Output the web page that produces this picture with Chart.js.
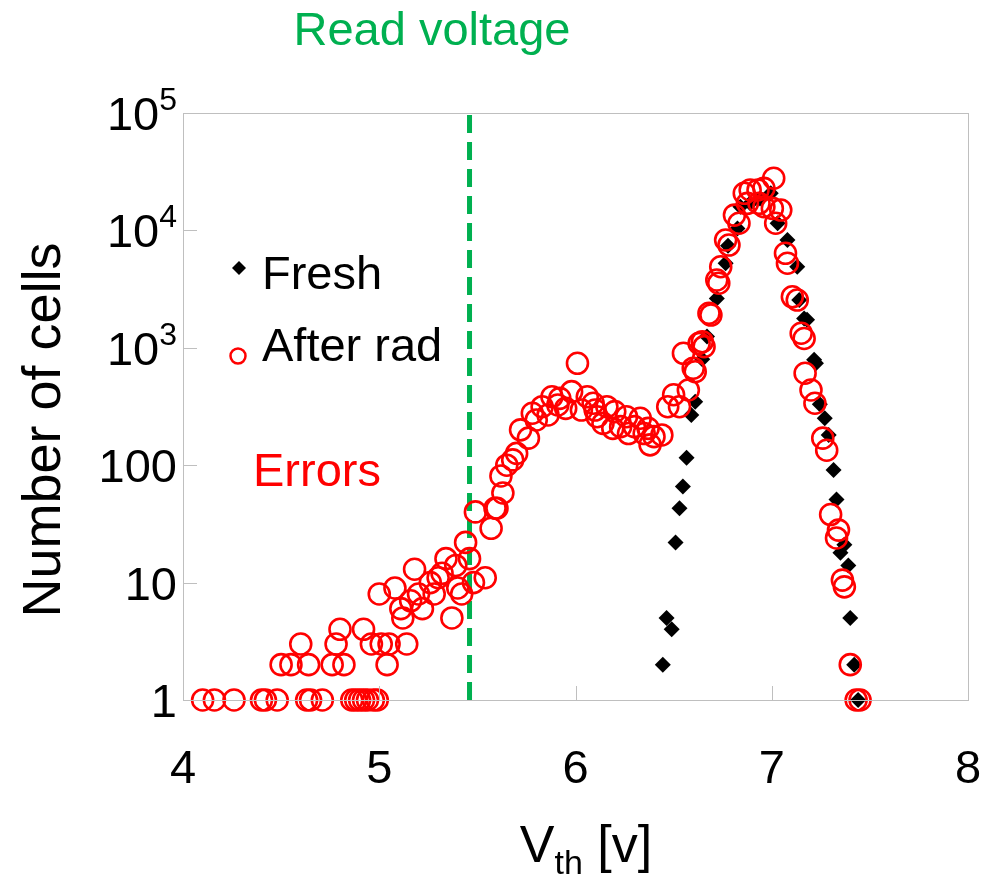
<!DOCTYPE html>
<html>
<head>
<meta charset="utf-8">
<script src="https://cdn.jsdelivr.net/npm/chart.js@4.4.1/dist/chart.umd.min.js"></script>
<style>
  body { margin: 0; background: #fff; }
  #wrap { width: 984px; height: 883px; }
</style>
</head>
<body>
<div id="wrap"><canvas id="vthChart" width="984" height="883"></canvas></div>
<script>
// Fresh cells (black diamonds): Vth [v] and number of cells
const freshV = [6.445, 6.464, 6.49, 6.51, 6.53, 6.547, 6.566, 6.59, 6.61, 6.646, 6.67, 6.72, 6.765, 6.777,
  6.825, 6.84, 6.89, 6.94, 6.995, 7.03, 7.08, 7.13, 7.14, 7.165, 7.18, 7.216, 7.225, 7.245, 7.27, 7.29,
  7.315, 7.33, 7.35, 7.37, 7.39, 7.40, 7.42, 7.44];
const freshN = [2, 5, 4, 22, 43, 66, 116, 268, 347, 800, 1250, 2630, 5250, 7400,
  10400, 15900, 17000, 18700, 20700, 11500, 8300, 4900, 2550, 1780, 1730, 790, 740, 330, 251, 181,
  91, 51, 18, 21, 14, 5, 2, 1];

// After radiation (red open circles)
const radV = [4.10, 4.16, 4.26, 4.40, 4.42, 4.48, 4.63, 4.65, 4.71, 4.86, 4.88, 4.90, 4.92, 4.94, 4.97, 4.99,
  4.50, 4.55, 4.64, 4.76, 4.82, 5.04,
  4.60, 4.78, 4.96, 5.01, 5.05, 5.14,
  4.80, 4.92, 5.12, 5.37, 5.11, 5.22, 5.16, 5.00, 5.20, 5.28, 5.42, 5.08, 5.40,
  5.26, 5.48, 5.30, 5.54, 5.32, 5.18, 5.39, 5.34, 5.46, 5.44, 5.57, 5.49, 5.59, 5.60, 5.63, 5.62,
  5.65, 5.68, 5.70, 5.72, 5.76, 5.78, 5.80, 5.83, 5.86, 5.88, 5.91, 5.92, 5.95, 5.98, 6.01,
  6.03, 6.06, 6.09, 6.10, 6.11, 6.14, 6.16, 6.19, 6.20, 6.23, 6.26, 6.27, 6.30, 6.33, 6.35, 6.37,
  6.38, 6.40, 6.44, 6.47, 6.50, 6.53, 6.55, 6.575, 6.60, 6.61, 6.63, 6.646, 6.655, 6.68, 6.69,
  6.72, 6.73, 6.74, 6.765, 6.782, 6.81, 6.833, 6.86, 6.876, 6.89, 6.93, 6.935, 6.96, 6.96, 7.003,
  7.01, 7.02, 7.046, 7.07, 7.08, 7.105, 7.13, 7.15, 7.165, 7.17, 7.20, 7.22, 7.26, 7.28, 7.30,
  7.33, 7.34, 7.36, 7.37, 7.40, 7.43, 7.45];
const radN = [1, 1, 1, 1, 1, 1, 1, 1, 1, 1, 1, 1, 1, 1, 1, 1,
  2, 2, 2, 2, 2, 2,
  3, 3, 3, 3, 3, 3,
  4, 4, 5, 5, 6, 6, 7, 8, 8, 8, 8, 9, 9,
  10, 10, 11, 11, 12, 13, 14, 16, 16, 22, 29, 40, 43, 43, 58, 81,
  100, 111, 126, 200, 170, 277, 243, 315, 268, 383, 326, 371, 305, 423, 738,
  295, 383, 337, 295, 259, 227, 315, 206, 286, 213, 259, 186, 213, 251, 186, 206,
  149, 175, 181, 315, 398, 315, 898, 437, 670, 626, 1090, 1127, 1023, 1970, 1900,
  3780, 3550, 4900, 8280, 7500, 13500, 11500, 20700, 17000, 22100, 22100, 17000, 22800, 15900, 15400,
  27800, 11500, 14900, 6380, 5250, 2720, 2550, 1330, 1200, 607, 437, 337, 170, 134, 38,
  24, 28, 10.5, 9.2, 2, 1, 1];

// Read voltage marker
const readVoltage = 5.46;

const xTicks = [4, 5, 6, 7, 8];
const yTicks = [1, 10, 100, 1000, 10000, 100000];
const yTickText = [["1", ""], ["10", ""], ["100", ""], ["10", "3"], ["10", "4"], ["10", "5"]];

const FONT = '"Liberation Sans", Arial, sans-serif';
const GREEN = "#00b050";
const RED = "#ff0000";

const toPts = (xs, ys) => xs.map((x, i) => ({ x: x, y: ys[i] }));

const decorations = {
  id: "decorations",
  afterDraw(chart) {
    const ctx = chart.ctx;
    const a = chart.chartArea;
    const xs = chart.scales.x;
    const ys = chart.scales.y;
    ctx.save();

    // frame and inner ticks
    ctx.strokeStyle = "#bfbfbf";
    ctx.lineWidth = 1;
    ctx.strokeRect(a.left + 0.5, a.top + 0.5, a.right - a.left, a.bottom - a.top);
    ctx.beginPath();
    yTicks.forEach(v => {
      const py = Math.round(ys.getPixelForValue(v)) + 0.5;
      ctx.moveTo(a.left, py);
      ctx.lineTo(a.left + 14, py);
    });
    xTicks.forEach(v => {
      const px = Math.round(xs.getPixelForValue(v)) + 0.5;
      ctx.moveTo(px, a.bottom);
      ctx.lineTo(px, a.bottom - 14);
    });
    ctx.stroke();

    // y tick labels
    ctx.fillStyle = "#000";
    ctx.textBaseline = "middle";
    yTicks.forEach((v, i) => {
      const py = ys.getPixelForValue(v) + 4;
      const [base, sup] = yTickText[i];
      let right = a.left - 6;
      if (sup) {
        ctx.font = "32px " + FONT;
        ctx.textAlign = "right";
        ctx.fillText(sup, right, py - 16);
        right -= ctx.measureText(sup).width;
      }
      ctx.font = "47px " + FONT;
      ctx.textAlign = "right";
      ctx.fillText(base, right, py);
    });

    // x tick labels
    ctx.textAlign = "center";
    ctx.textBaseline = "middle";
    ctx.font = "47px " + FONT;
    xTicks.forEach(v => {
      ctx.fillText(String(v), xs.getPixelForValue(v), a.bottom + 70);
    });

    // y title
    ctx.save();
    ctx.translate(45, 430);
    ctx.rotate(-Math.PI / 2);
    ctx.font = "54px " + FONT;
    ctx.textAlign = "center";
    ctx.textBaseline = "middle";
    ctx.fillText("Number of cells", 0, 0);
    ctx.restore();

    // x title with subscript
    ctx.textAlign = "left";
    ctx.textBaseline = "alphabetic";
    const base = 862;
    ctx.font = "52px " + FONT;
    const wV = ctx.measureText("V").width;
    ctx.font = "34px " + FONT;
    const wSub = ctx.measureText("th").width;
    ctx.font = "52px " + FONT;
    const wRest = ctx.measureText(" [v]").width;
    let x0 = 586 - (wV + wSub + wRest) / 2;
    ctx.fillText("V", x0, base);
    ctx.font = "34px " + FONT;
    ctx.fillText("th", x0 + wV, base + 12);
    ctx.font = "52px " + FONT;
    ctx.fillText(" [v]", x0 + wV + wSub, base);

    // title
    ctx.fillStyle = GREEN;
    ctx.font = "47px " + FONT;
    ctx.textAlign = "center";
    ctx.textBaseline = "middle";
    ctx.fillText("Read voltage", 432, 32);

    // legend
    ctx.fillStyle = "#000";
    ctx.textAlign = "left";
    ctx.font = "47px " + FONT;
    ctx.fillText("Fresh", 262, 276);
    ctx.fillText("After rad", 262, 348);
    ctx.beginPath();
    ctx.moveTo(239, 261); ctx.lineTo(246, 268); ctx.lineTo(239, 275); ctx.lineTo(232, 268);
    ctx.closePath();
    ctx.fill();
    ctx.strokeStyle = RED;
    ctx.lineWidth = 2.5;
    ctx.beginPath();
    ctx.arc(238, 356, 7.5, 0, Math.PI * 2);
    ctx.stroke();

    ctx.fillStyle = RED;
    ctx.fillText("Errors", 253, 473);
    ctx.restore();
  }
};

new Chart(document.getElementById("vthChart"), {
  type: "scatter",
  data: {
    datasets: [
      {
        label: "After rad",
        data: toPts(radV, radN),
        pointStyle: "circle",
        pointRadius: 10.5,
        borderColor: RED,
        borderWidth: 2.6,
        backgroundColor: "rgba(0,0,0,0)",
        clip: false,
        order: 0,
      },
      {
        label: "Fresh",
        data: toPts(freshV, freshN),
        pointStyle: "rectRot",
        pointRadius: 8,
        borderWidth: 0,
        backgroundColor: "#000",
        clip: false,
        order: 1,
      },
      {
        label: "Read voltage",
        type: "line",
        data: [{ x: readVoltage, y: 1 }, { x: readVoltage, y: 100000 }],
        borderColor: GREEN,
        borderWidth: 5,
        borderDash: [18, 9],
        pointRadius: 0,
        order: 2,
      },
    ],
  },
  options: {
    responsive: false,
    animation: false,
    events: [],
    layout: { padding: { top: 113, right: 16, left: 0, bottom: 0 } },
    plugins: {
      legend: { display: false },
      tooltip: { enabled: false },
    },
    scales: {
      x: {
        type: "linear",
        min: 4,
        max: 8,
        grid: { display: false },
        border: { display: false },
        ticks: { display: false },
        afterFit(scale) { scale.height = 183; },
      },
      y: {
        type: "logarithmic",
        min: 1,
        max: 100000,
        grid: { display: false },
        border: { display: false },
        ticks: { display: false },
        afterFit(scale) { scale.width = 183; },
      },
    },
  },
  plugins: [decorations],
});
</script>
</body>
</html>
